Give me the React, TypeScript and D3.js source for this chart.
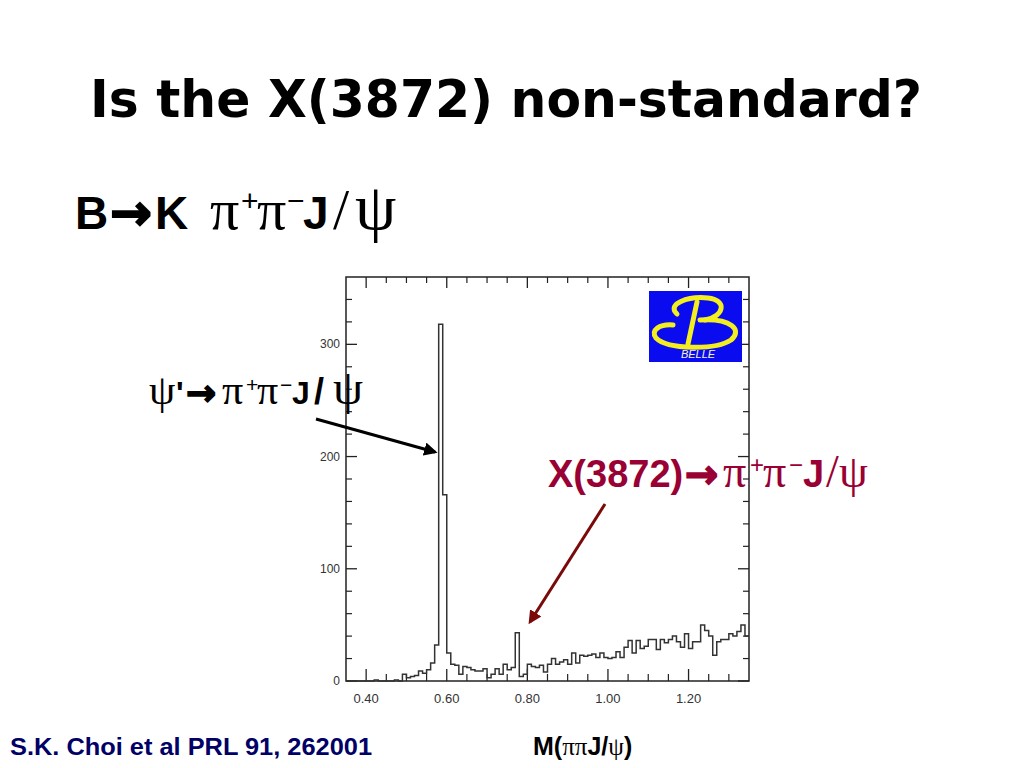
import React from "react";
import * as d3 from "d3";

// ---- data ----
const xDomain = [0.35, 1.35];
const yDomain = [0, 360];
const binWidth = 0.01;
const counts = [
  0, 0, 0, 0, 0, 0, 0, 1, 0, 0,
  0, 0, 1, 0, 6, 3, 4, 5, 9, 7,
  10, 16, 32, 318, 166, 25, 15, 14, 6, 13,
  12, 10, 9, 9, 11, 3, 6, 11, 6, 15,
  10, 12, 43, 4, 6, 15, 13, 12, 14, 8,
  15, 20, 15, 17, 19, 15, 25, 16, 23, 22,
  23, 24, 21, 25, 21, 20, 21, 26, 21, 30,
  36, 25, 36, 29, 31, 37, 37, 28, 37, 34,
  37, 40, 35, 30, 42, 29, 35, 35, 50, 45,
  40, 23, 35, 37, 37, 42, 40, 44, 50, 40,
];
const xMajorTicks = [0.4, 0.6, 0.8, 1.0, 1.2];
const xTickLabels = ["0.40", "0.60", "0.80", "1.00", "1.20"];
const xMinorTicks = [0.45, 0.5, 0.55, 0.65, 0.7, 0.75, 0.85, 0.9, 0.95, 1.05, 1.1, 1.15, 1.25, 1.3];
const yMajorTicks = [0, 100, 200, 300];
const yTickLabels = ["0", "100", "200", "300"];
const yMinorTicks = [20, 40, 60, 80, 120, 140, 160, 180, 220, 240, 260, 280, 320, 340];

const title = "Is the X(3872) non-standard?";
const citation = "S.K. Choi et al PRL 91, 262001";

export default function App() {
  const x = d3.scaleLinear().domain(xDomain).range([346, 749]);
  const y = d3.scaleLinear().domain(yDomain).range([681, 277]);

  const pts: [number, number][] = counts.map((c, i) => [xDomain[0] + i * binWidth, c]);
  pts.push([xDomain[0] + counts.length * binWidth, counts[counts.length - 1]]);
  const line = d3
    .line<[number, number]>()
    .x((d) => x(d[0]))
    .y((d) => y(d[1]))
    .curve(d3.curveStepAfter);

  const sans = "'Liberation Sans', Arial, sans-serif";
  const serif = "'Liberation Serif', 'Times New Roman', serif";
  const arrowFont = "'DejaVu Sans', sans-serif";
  const arrowGlyph = "\u2192";
  const frameColor = "#222";
  const red = "#990033";

  return (
    <svg width={1024} height={768} style={{ position: "absolute", left: 0, top: 0, background: "#fff" }}>
      <defs>
        <marker id="arrBlack" viewBox="0 0 10 10" refX="8" refY="5" markerWidth="4.5" markerHeight="4.5" orient="auto">
          <path d="M0,0 L10,5 L0,10 z" fill="#000" />
        </marker>
        <marker id="arrRed" viewBox="0 0 10 10" refX="8" refY="5" markerWidth="4.5" markerHeight="4.5" orient="auto">
          <path d="M0,0 L10,5 L0,10 z" fill="#7a0a0a" />
        </marker>
      </defs>
      <rect x={0} y={0} width={1024} height={768} fill="#fff" />

      {/* Title */}
      <text x={90} y={117} fontFamily="'DejaVu Sans', sans-serif" fontWeight="bold" fontSize={52}
        textLength={832} lengthAdjust="spacingAndGlyphs" fill="#000">{title}</text>

      {/* Subtitle B -> K pi+ pi- J/psi */}
      <text y={229} fontSize={46} fill="#000">
        <tspan x={75} fontFamily={sans} fontWeight="bold">B</tspan>
        <tspan x={110} fontFamily={arrowFont} fontWeight="bold" fontSize={50} stroke="#000" strokeWidth={2} dy={1}>{arrowGlyph}</tspan>
        <tspan x={155} fontFamily={sans} fontWeight="bold" dy={-1}>K</tspan>
        <tspan x={210} fontFamily={serif} fontSize={58}>π</tspan>
        <tspan x={241} fontFamily={sans} fontSize={30} dy={-18}>+</tspan>
        <tspan x={257} fontFamily={serif} fontSize={58} dy={18}>π</tspan>
        <tspan x={287} fontFamily={sans} fontSize={30} dy={-18}>−</tspan>
        <tspan x={303} fontFamily={sans} fontWeight="bold" dy={18}>J</tspan>
        <tspan x={333} fontFamily={serif} fontSize={58}>/</tspan>
        <tspan x={355} fontFamily={serif} fontSize={66}>ψ</tspan>
      </text>

      {/* Plot frame */}
      <rect x={x(xDomain[0])} y={y(yDomain[1])} width={x(xDomain[1]) - x(xDomain[0])}
        height={y(yDomain[0]) - y(yDomain[1])} fill="none" stroke={frameColor} strokeWidth={1.5} />

      {/* x ticks (bottom & top) */}
      {xMajorTicks.map((t) => (
        <g key={"xM" + t}>
          <line x1={x(t)} x2={x(t)} y1={y(0)} y2={y(0) - 12} stroke={frameColor} strokeWidth={1.3} />
          <line x1={x(t)} x2={x(t)} y1={y(360)} y2={y(360) + 11} stroke={frameColor} strokeWidth={1.3} />
        </g>
      ))}
      {xMinorTicks.map((t) => (
        <g key={"xm" + t}>
          <line x1={x(t)} x2={x(t)} y1={y(0)} y2={y(0) - 7} stroke={frameColor} strokeWidth={1.2} />
          <line x1={x(t)} x2={x(t)} y1={y(360)} y2={y(360) + 6} stroke={frameColor} strokeWidth={1.2} />
        </g>
      ))}
      {xMajorTicks.map((t, i) => (
        <text key={"xl" + t} x={x(t)} y={703} textAnchor="middle" fontFamily={sans} fontSize={13} fill="#333">
          {xTickLabels[i]}
        </text>
      ))}

      {/* y ticks (left & right) */}
      {yMajorTicks.map((t) => (
        <g key={"yM" + t}>
          <line x1={x(0.35)} x2={x(0.35) + 11} y1={y(t)} y2={y(t)} stroke={frameColor} strokeWidth={1.3} />
          <line x1={x(1.35)} x2={x(1.35) - 11} y1={y(t)} y2={y(t)} stroke={frameColor} strokeWidth={1.3} />
        </g>
      ))}
      {yMinorTicks.map((t) => (
        <g key={"ym" + t}>
          <line x1={x(0.35)} x2={x(0.35) + 6} y1={y(t)} y2={y(t)} stroke={frameColor} strokeWidth={1.2} />
          <line x1={x(1.35)} x2={x(1.35) - 6} y1={y(t)} y2={y(t)} stroke={frameColor} strokeWidth={1.2} />
        </g>
      ))}
      {yMajorTicks.map((t, i) => (
        <text key={"yl" + t} x={340} y={y(t) + 4} textAnchor="end" fontFamily={sans} fontSize={12} fill="#333">
          {yTickLabels[i]}
        </text>
      ))}

      {/* histogram */}
      <path d={line(pts) || ""} fill="none" stroke="#333" strokeWidth={1.5} />

      {/* BELLE logo */}
      <g>
        <rect x={649} y={291} width={93} height={71} fill="#0b0bf0" />
        <path d="M677,314 C666,304 688,296 708,298 C727,300 725,316 705,320" fill="none" stroke="#f2ee20" strokeWidth={5} strokeLinecap="round" />
        <path d="M697,302 L688,344" fill="none" stroke="#f2ee20" strokeWidth={5} strokeLinecap="round" />
        <path d="M700,320 C731,318 743,330 731,340 C716,350 668,350 656,338 C650,330 660,324 673,325" fill="none" stroke="#f2ee20" strokeWidth={5} strokeLinecap="round" />
        <text x={698} y={358} textAnchor="middle" fontFamily={sans} fontStyle="italic" fontSize={11} fill="#f4f4d0">BELLE</text>
      </g>

      {/* psi' label and arrow */}
      <text y={404} fontSize={32} fill="#000">
        <tspan x={149} fontFamily={serif} fontSize={42}>ψ</tspan>
        <tspan x={176} fontFamily={sans} fontWeight="bold">'</tspan>
        <tspan x={186} fontFamily={arrowFont} fontWeight="bold" fontSize={36} stroke="#000" strokeWidth={1.5} dy={1}>{arrowGlyph}</tspan>
        <tspan x={222} fontFamily={serif} fontSize={42} dy={-1}>π</tspan>
        <tspan x={246} fontFamily={sans} fontSize={21} dy={-12}>+</tspan>
        <tspan x={257} fontFamily={serif} fontSize={42} dy={12}>π</tspan>
        <tspan x={280} fontFamily={sans} fontSize={21} dy={-12}>−</tspan>
        <tspan x={292} fontFamily={sans} fontWeight="bold" dy={12}>J</tspan>
        <tspan x={314} fontFamily={sans} fontWeight="bold" fontSize={36}>/</tspan>
        <tspan x={333} fontFamily={serif} fontSize={48}>ψ</tspan>
      </text>
      <line x1={316} y1={419} x2={435} y2={452} stroke="#000" strokeWidth={3} markerEnd="url(#arrBlack)" />

      {/* X(3872) label and arrow */}
      <text y={487} fontSize={38} fill={red}>
        <tspan x={548} fontFamily={sans} fontWeight="bold">X(3872)</tspan>
        <tspan x={685} fontFamily={arrowFont} fontWeight="bold" fontSize={40} stroke={red} strokeWidth={1.5} dy={1}>{arrowGlyph}</tspan>
        <tspan x={723} fontFamily={serif} fontSize={46} dy={-1}>π</tspan>
        <tspan x={750} fontFamily={sans} fontSize={24} dy={-14}>+</tspan>
        <tspan x={763} fontFamily={serif} fontSize={46} dy={14}>π</tspan>
        <tspan x={789} fontFamily={sans} fontSize={24} dy={-14}>−</tspan>
        <tspan x={803} fontFamily={sans} fontWeight="bold" dy={14}>J</tspan>
        <tspan x={826} fontFamily={serif} fontSize={46}>/</tspan>
        <tspan x={839} fontFamily={serif} fontSize={46}>ψ</tspan>
      </text>
      <line x1={605} y1={504} x2={530} y2={622} stroke="#7a0a0a" strokeWidth={3} markerEnd="url(#arrRed)" />

      {/* bottom labels */}
      <text x={10} y={755} fontFamily={sans} fontWeight="bold" fontSize={24} textLength={362}
        lengthAdjust="spacingAndGlyphs" fill="#000066">{citation}</text>
      <text y={755} fontSize={25} fill="#000">
        <tspan x={533} fontFamily={sans} fontWeight="bold">M(</tspan>
        <tspan fontFamily={serif}>ππ</tspan>
        <tspan fontFamily={sans} fontWeight="bold">J/</tspan>
        <tspan fontFamily={serif}>ψ</tspan>
        <tspan fontFamily={sans} fontWeight="bold">)</tspan>
      </text>
    </svg>
  );
}
